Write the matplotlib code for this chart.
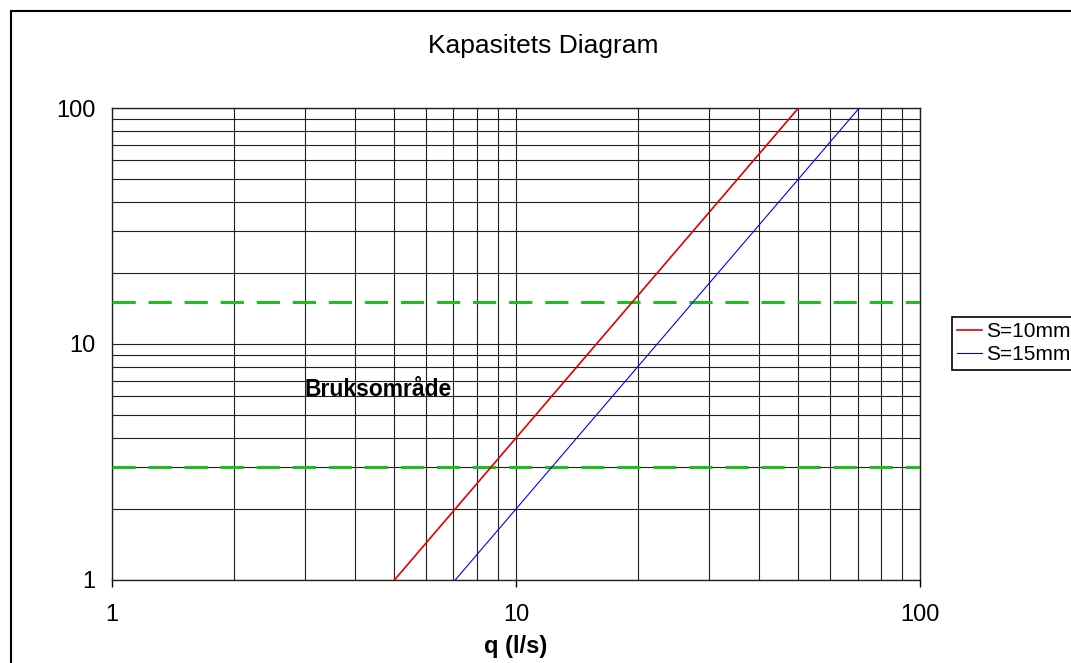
import matplotlib.pyplot as plt
from matplotlib.patches import Rectangle

plt.rcParams['font.family'] = ['Liberation Sans', 'DejaVu Sans']

# Capacity curves (q in l/s vs head)
q_10mm = [5.0, 50.0]
h_10mm = [1.0, 100.0]
q_15mm = [7.07, 70.7]
h_15mm = [1.0, 100.0]

# Operating range limits (green dashed)
range_limits = [15.0, 3.0]

x_ticks = [1, 10, 100]
y_ticks = [1, 10, 100]

fig = plt.figure(figsize=(10.71, 6.63), dpi=100)
ax = fig.add_axes([0.1046, 0.1252, 0.7545, 0.7119])

ax.set_xscale('log')
ax.set_yscale('log')
ax.set_xlim(1, 100)
ax.set_ylim(1, 100)

# grid at every major and minor decade step
ax.grid(True, which='both', color='#202020', linewidth=0.8)
ax.set_axisbelow(True)

for lim in range_limits:
    ax.axhline(lim, color='#22bb22', linewidth=2.2, dashes=(7.6, 4.2), zorder=3)

ax.plot(q_10mm, h_10mm, color='#e00000', linewidth=1.2, label='S=10mm', zorder=4)
ax.plot(q_15mm, h_15mm, color='#0000ff', linewidth=0.8, label='S=15mm', zorder=4)

ax.text(3.0, 6.4, 'Bruksområde', fontsize=16.5, fontweight='bold', va='center', ha='left')

ax.set_xticks(x_ticks)
ax.set_xticklabels([str(t) for t in x_ticks])
ax.set_yticks(y_ticks)
ax.set_yticklabels([str(t) for t in y_ticks])
ax.tick_params(axis='both', which='major', labelsize=17, length=5, width=1, direction='out', pad=12)
ax.tick_params(axis='both', which='minor', length=0)
ax.tick_params(axis='y', length=0, pad=12)
for s in ax.spines.values():
    s.set_color('#202020')
    s.set_linewidth(1)

fig.text(543 / 1071, 1 - 46 / 663, 'Kapasitets Diagram', fontsize=19, ha='center', va='center')
ax.set_xlabel('q (l/s)', fontsize=17, fontweight='bold', labelpad=7)

leg = fig.legend(loc='upper left', bbox_to_anchor=(952 / 1071, 1 - 317 / 663), fontsize=15,
                 frameon=True, fancybox=False, edgecolor='black', framealpha=1,
                 handlelength=1.2, handletextpad=0.2, borderpad=0.25, labelspacing=0.2,
                 borderaxespad=0)
leg.get_frame().set_linewidth(1.2)

# outer chart border, running off the right and bottom edges
fig.patches.append(Rectangle((11 / 1071, -0.1), 1.2, 1 - 11 / 663 + 0.1, transform=fig.transFigure,
                             fill=False, edgecolor='black', linewidth=1.5))

fig.savefig('out.png', dpi=100)
